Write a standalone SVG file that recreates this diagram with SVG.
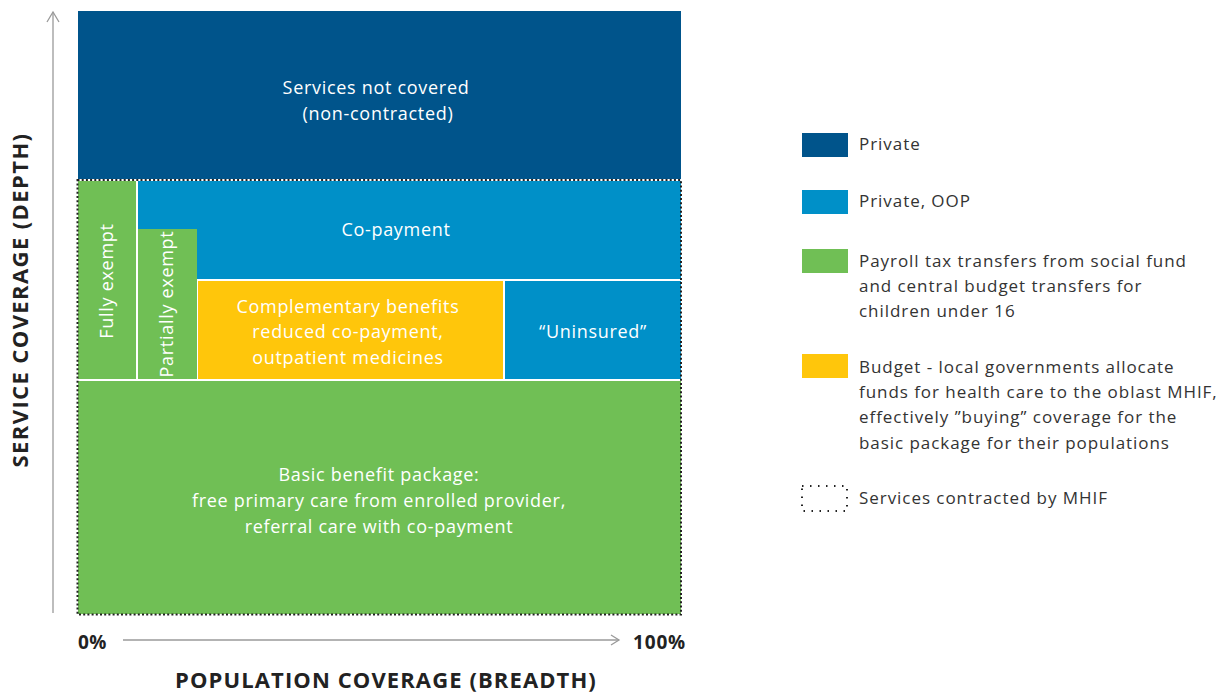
<svg xmlns="http://www.w3.org/2000/svg" width="1224" height="692" viewBox="0 0 1224 692">
<defs>
<style>
.t{font-family:"Open Sans","Liberation Sans",sans-serif;font-size:18px;letter-spacing:0.7px;fill:#ffffff;text-anchor:middle;}
.lg{font-family:"Open Sans","Liberation Sans",sans-serif;font-size:17px;letter-spacing:0.95px;fill:#333333;}
.ax{font-family:"Open Sans","Liberation Sans",sans-serif;font-weight:bold;fill:#222222;}
.axis{stroke:#9a9a9a;stroke-width:1.3;fill:none;}
.dk{fill:#00548b;}
.md{fill:#0090c8;}
.gr{fill:#70bf55;}
.ye{fill:#ffc60b;}
</style>
</defs>
<rect width="1224" height="692" fill="#ffffff"/>
<g id="axes">
<line class="axis" x1="53" y1="613" x2="53" y2="12"/>
<polyline class="axis" points="47,22 53,12 59,22"/>
<line class="axis" x1="123" y1="640" x2="619" y2="640"/>
<polyline class="axis" points="611,635 619,640 611,645"/>
<text class="ax" x="22" y="300" font-size="22" letter-spacing="1.4" text-anchor="middle" transform="rotate(-90 22 300)" dominant-baseline="middle">SERVICE COVERAGE (DEPTH)</text>
<text class="ax" x="78" y="649" font-size="19" letter-spacing="0.5">0%</text>
<text class="ax" x="686" y="649" font-size="19" letter-spacing="0.8" text-anchor="end">100%</text>
<text class="ax" x="386" y="688" font-size="22" letter-spacing="1.1" text-anchor="middle">POPULATION COVERAGE (BREADTH)</text>
</g>
<g id="not-covered">
<rect class="dk" x="78" y="11" width="603" height="168"/>
<text class="t" x="376" y="94">Services not covered</text>
<text class="t" x="378" y="120">(non-contracted)</text>
</g>
<g id="fully-exempt">
<rect class="gr" x="78" y="181" width="58" height="198"/>
<text class="t" transform="rotate(-90 107 281)" x="107" y="287" letter-spacing="0.3">Fully exempt</text>
</g>
<g id="co-payment">
<rect class="md" x="138" y="181" width="543" height="98"/>
<text class="t" x="396" y="236">Co-payment</text>
</g>
<g id="partially-exempt">
<rect class="gr" x="138" y="229" width="59" height="150"/>
<text class="t" transform="rotate(-90 167 304)" x="167" y="310" font-size="17" letter-spacing="0.3">Partially exempt</text>
</g>
<g id="complementary">
<rect class="ye" x="198" y="281" width="305" height="98"/>
<text class="t" x="348" y="313">Complementary benefits</text>
<text class="t" x="348" y="338">reduced co-payment,</text>
<text class="t" x="348" y="364">outpatient medicines</text>
</g>
<g id="uninsured">
<rect class="md" x="505" y="281" width="176" height="98"/>
<text class="t" x="593" y="338">“Uninsured”</text>
</g>
<g id="basic">
<rect class="gr" x="78" y="381" width="603" height="233"/>
<text class="t" x="379" y="481">Basic benefit package:</text>
<text class="t" x="379" y="507">free primary care from enrolled provider,</text>
<text class="t" x="379" y="533">referral care with co-payment</text>
</g>
<g id="contracted-border">
<rect x="77.5" y="180" width="603.5" height="434.5" fill="none" stroke="#222" stroke-width="2" stroke-dasharray="2 2.2"/>
</g>
<g id="legend">
<rect class="dk" x="802" y="133" width="46" height="24"/>
<text class="lg" x="859" y="150">Private</text>
<rect class="md" x="802" y="190" width="46" height="24"/>
<text class="lg" x="859" y="207">Private, OOP</text>
<rect class="gr" x="802" y="249" width="46" height="24"/>
<text class="lg" x="859" y="267">Payroll tax transfers from social fund</text>
<text class="lg" x="859" y="292">and central budget transfers for</text>
<text class="lg" x="859" y="317">children under 16</text>
<rect class="ye" x="802" y="354" width="46" height="24"/>
<text class="lg" x="859" y="373">Budget - local governments allocate</text>
<text class="lg" x="859" y="398">funds for health care to the oblast MHIF,</text>
<text class="lg" x="859" y="423">effectively ”buying” coverage for the</text>
<text class="lg" x="859" y="449">basic package for their populations</text>
<rect x="802" y="486" width="45" height="25" fill="none" stroke="#222" stroke-width="2" stroke-dasharray="1.5 6.5"/>
<text class="lg" x="859" y="504">Services contracted by MHIF</text>
</g>
</svg>
